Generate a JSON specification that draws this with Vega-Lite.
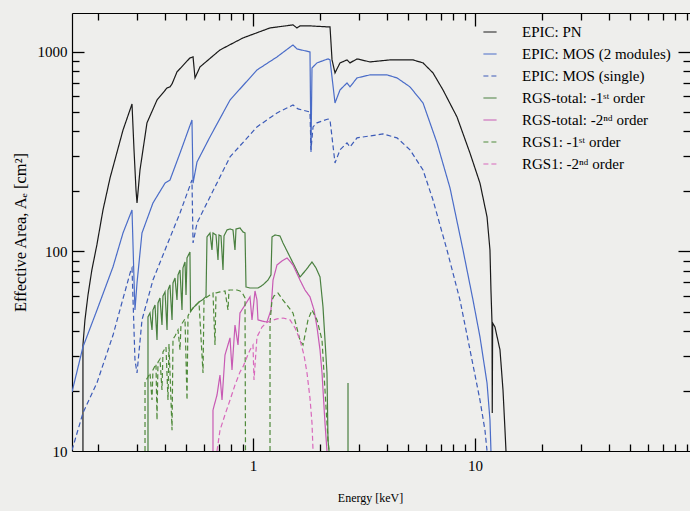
{
 "$schema": "https://vega.github.io/schema/vega-lite/v6.json",
 "width": 618, "height": 438,
 "autosize": {"type": "none"},
 "padding": {"left": 72, "top": 13, "right": 0, "bottom": 60},
 "background": "#eeeeec",
 "config": {
  "view": {"stroke": null},
  "font": "Liberation Serif",
  "axis": {"grid": false, "domainColor": "#000", "domainWidth": 1.2, "tickColor": "#000", "tickWidth": 1.3, "tickOpacity": 1, "labelColor": "#000", "titleColor": "#000", "labelFont": "Liberation Serif", "titleFont": "Liberation Serif", "titleFontWeight": "normal", "labelFontSize": 15, "titleFontSize": 12, "labelOverlap": false, "labelFlush": false}
 },
 "data": {"values": [
  {"s":"EPIC: PN","g":1,"E":0.1714,"A":10},{"s":"EPIC: PN","g":1,"E":0.1714,"A":34.0},{"s":"EPIC: PN","g":1,"E":0.175,"A":45.4},{"s":"EPIC: PN","g":1,"E":0.1806,"A":60.5},{"s":"EPIC: PN","g":1,"E":0.188,"A":80.8},{"s":"EPIC: PN","g":1,"E":0.198,"A":107.8},{"s":"EPIC: PN","g":1,"E":0.211,"A":161.4},{"s":"EPIC: PN","g":1,"E":0.227,"A":233.5},{"s":"EPIC: PN","g":1,"E":0.2597,"A":406},{"s":"EPIC: PN","g":1,"E":0.2851,"A":548},{"s":"EPIC: PN","g":1,"E":0.2911,"A":323},{"s":"EPIC: PN","g":1,"E":0.2972,"A":203},{"s":"EPIC: PN","g":1,"E":0.3003,"A":175},{"s":"EPIC: PN","g":1,"E":0.3097,"A":256},{"s":"EPIC: PN","g":1,"E":0.333,"A":441},{"s":"EPIC: PN","g":1,"E":0.3695,"A":574},{"s":"EPIC: PN","g":1,"E":0.41,"A":660},{"s":"EPIC: PN","g":1,"E":0.4227,"A":668},{"s":"EPIC: PN","g":1,"E":0.4318,"A":691},{"s":"EPIC: PN","g":1,"E":0.4546,"A":794},{"s":"EPIC: PN","g":1,"E":0.52,"A":933},{"s":"EPIC: PN","g":1,"E":0.537,"A":944},{"s":"EPIC: PN","g":1,"E":0.548,"A":741},{"s":"EPIC: PN","g":1,"E":0.577,"A":841},{"s":"EPIC: PN","g":1,"E":0.71,"A":1023},{"s":"EPIC: PN","g":1,"E":0.901,"A":1175},{"s":"EPIC: PN","g":1,"E":1.193,"A":1319},{"s":"EPIC: PN","g":1,"E":1.514,"A":1366},{"s":"EPIC: PN","g":1,"E":1.578,"A":1319},{"s":"EPIC: PN","g":1,"E":1.628,"A":1350},{"s":"EPIC: PN","g":1,"E":1.806,"A":1350},{"s":"EPIC: PN","g":1,"E":2.177,"A":1335},{"s":"EPIC: PN","g":1,"E":2.223,"A":1335},{"s":"EPIC: PN","g":1,"E":2.27,"A":912},{"s":"EPIC: PN","g":1,"E":2.341,"A":785},{"s":"EPIC: PN","g":1,"E":2.466,"A":881},{"s":"EPIC: PN","g":1,"E":2.651,"A":912},{"s":"EPIC: PN","g":1,"E":2.735,"A":881},{"s":"EPIC: PN","g":1,"E":2.941,"A":923},{"s":"EPIC: PN","g":1,"E":3.365,"A":891},{"s":"EPIC: PN","g":1,"E":4.141,"A":912},{"s":"EPIC: PN","g":1,"E":5.256,"A":912},{"s":"EPIC: PN","g":1,"E":5.833,"A":881},{"s":"EPIC: PN","g":1,"E":6.469,"A":785},{"s":"EPIC: PN","g":1,"E":7.175,"A":645},{"s":"EPIC: PN","g":1,"E":8.298,"A":472},{"s":"EPIC: PN","g":1,"E":9.495,"A":311},{"s":"EPIC: PN","g":1,"E":10.53,"A":220},{"s":"EPIC: PN","g":1,"E":11.33,"A":149},{"s":"EPIC: PN","g":1,"E":11.68,"A":101.7},{"s":"EPIC: PN","g":1,"E":11.8,"A":64.1},{"s":"EPIC: PN","g":1,"E":11.93,"A":43.8},{"s":"EPIC: PN","g":1,"E":11.96,"A":15.5},{"s":"EPIC: PN","g":1,"E":12.01,"A":43.8},{"s":"EPIC: PN","g":1,"E":12.3,"A":41.8},{"s":"EPIC: PN","g":1,"E":12.96,"A":32.1},{"s":"EPIC: PN","g":1,"E":13.37,"A":20.2},{"s":"EPIC: PN","g":1,"E":13.65,"A":12.7},{"s":"EPIC: PN","g":1,"E":13.79,"A":10},

  {"s":"EPIC: MOS (2 modules)","g":1,"E":0.153,"A":19.76},{"s":"EPIC: MOS (2 modules)","g":1,"E":0.1714,"A":33.2},{"s":"EPIC: MOS (2 modules)","g":1,"E":0.1983,"A":50.9},{"s":"EPIC: MOS (2 modules)","g":1,"E":0.234,"A":83.6},{"s":"EPIC: MOS (2 modules)","g":1,"E":0.2597,"A":123.8},{"s":"EPIC: MOS (2 modules)","g":1,"E":0.2851,"A":161.4},{"s":"EPIC: MOS (2 modules)","g":1,"E":0.2911,"A":71.9},{"s":"EPIC: MOS (2 modules)","g":1,"E":0.294,"A":50.9},{"s":"EPIC: MOS (2 modules)","g":1,"E":0.3003,"A":69.5},{"s":"EPIC: MOS (2 modules)","g":1,"E":0.3162,"A":123.8},{"s":"EPIC: MOS (2 modules)","g":1,"E":0.3543,"A":175},{"s":"EPIC: MOS (2 modules)","g":1,"E":0.4016,"A":220},{"s":"EPIC: MOS (2 modules)","g":1,"E":0.4227,"A":228},{"s":"EPIC: MOS (2 modules)","g":1,"E":0.469,"A":311},{"s":"EPIC: MOS (2 modules)","g":1,"E":0.531,"A":456},{"s":"EPIC: MOS (2 modules)","g":1,"E":0.537,"A":220},{"s":"EPIC: MOS (2 modules)","g":1,"E":0.5596,"A":281},{"s":"EPIC: MOS (2 modules)","g":1,"E":0.64,"A":375},{"s":"EPIC: MOS (2 modules)","g":1,"E":0.788,"A":574},{"s":"EPIC: MOS (2 modules)","g":1,"E":1.042,"A":812},{"s":"EPIC: MOS (2 modules)","g":1,"E":1.283,"A":944},{"s":"EPIC: MOS (2 modules)","g":1,"E":1.514,"A":1084},{"s":"EPIC: MOS (2 modules)","g":1,"E":1.578,"A":1035},{"s":"EPIC: MOS (2 modules)","g":1,"E":1.806,"A":1000},{"s":"EPIC: MOS (2 modules)","g":1,"E":1.825,"A":315},{"s":"EPIC: MOS (2 modules)","g":1,"E":1.844,"A":831},{"s":"EPIC: MOS (2 modules)","g":1,"E":1.942,"A":881},{"s":"EPIC: MOS (2 modules)","g":1,"E":2.177,"A":923},{"s":"EPIC: MOS (2 modules)","g":1,"E":2.223,"A":912},{"s":"EPIC: MOS (2 modules)","g":1,"E":2.341,"A":555},{"s":"EPIC: MOS (2 modules)","g":1,"E":2.466,"A":645},{"s":"EPIC: MOS (2 modules)","g":1,"E":2.651,"A":699},{"s":"EPIC: MOS (2 modules)","g":1,"E":2.735,"A":668},{"s":"EPIC: MOS (2 modules)","g":1,"E":2.941,"A":741},{"s":"EPIC: MOS (2 modules)","g":1,"E":3.365,"A":767},{"s":"EPIC: MOS (2 modules)","g":1,"E":4.015,"A":767},{"s":"EPIC: MOS (2 modules)","g":1,"E":4.453,"A":741},{"s":"EPIC: MOS (2 modules)","g":1,"E":5.096,"A":668},{"s":"EPIC: MOS (2 modules)","g":1,"E":5.833,"A":555},{"s":"EPIC: MOS (2 modules)","g":1,"E":6.743,"A":350},{"s":"EPIC: MOS (2 modules)","g":1,"E":7.718,"A":208},{"s":"EPIC: MOS (2 modules)","g":1,"E":8.831,"A":101.7},{"s":"EPIC: MOS (2 modules)","g":1,"E":9.795,"A":57.1},{"s":"EPIC: MOS (2 modules)","g":1,"E":10.53,"A":37.3},{"s":"EPIC: MOS (2 modules)","g":1,"E":11.33,"A":21.9},{"s":"EPIC: MOS (2 modules)","g":1,"E":11.68,"A":14.3},{"s":"EPIC: MOS (2 modules)","g":1,"E":11.8,"A":10},

  {"s":"EPIC: MOS (single)","g":1,"E":0.153,"A":10.1},{"s":"EPIC: MOS (single)","g":1,"E":0.1714,"A":15.5},{"s":"EPIC: MOS (single)","g":1,"E":0.1983,"A":22},{"s":"EPIC: MOS (single)","g":1,"E":0.234,"A":38},{"s":"EPIC: MOS (single)","g":1,"E":0.2597,"A":58},{"s":"EPIC: MOS (single)","g":1,"E":0.282,"A":80.8},{"s":"EPIC: MOS (single)","g":1,"E":0.2851,"A":82.7},{"s":"EPIC: MOS (single)","g":1,"E":0.294,"A":28.6},{"s":"EPIC: MOS (single)","g":1,"E":0.3003,"A":24.6},{"s":"EPIC: MOS (single)","g":1,"E":0.3162,"A":45.4},{"s":"EPIC: MOS (single)","g":1,"E":0.3543,"A":71.9},{"s":"EPIC: MOS (single)","g":1,"E":0.41,"A":107.8},{"s":"EPIC: MOS (single)","g":1,"E":0.469,"A":156},{"s":"EPIC: MOS (single)","g":1,"E":0.531,"A":228},{"s":"EPIC: MOS (single)","g":1,"E":0.537,"A":110.3},{"s":"EPIC: MOS (single)","g":1,"E":0.5596,"A":139},{"s":"EPIC: MOS (single)","g":1,"E":0.64,"A":187.6},{"s":"EPIC: MOS (single)","g":1,"E":0.788,"A":297.7},{"s":"EPIC: MOS (single)","g":1,"E":1.042,"A":421},{"s":"EPIC: MOS (single)","g":1,"E":1.283,"A":494.7},{"s":"EPIC: MOS (single)","g":1,"E":1.514,"A":542},{"s":"EPIC: MOS (single)","g":1,"E":1.595,"A":518},{"s":"EPIC: MOS (single)","g":1,"E":1.806,"A":500},{"s":"EPIC: MOS (single)","g":1,"E":1.825,"A":323},{"s":"EPIC: MOS (single)","g":1,"E":1.864,"A":421},{"s":"EPIC: MOS (single)","g":1,"E":1.942,"A":441},{"s":"EPIC: MOS (single)","g":1,"E":2.177,"A":461},{"s":"EPIC: MOS (single)","g":1,"E":2.223,"A":456},{"s":"EPIC: MOS (single)","g":1,"E":2.341,"A":277.7},{"s":"EPIC: MOS (single)","g":1,"E":2.466,"A":323},{"s":"EPIC: MOS (single)","g":1,"E":2.651,"A":350},{"s":"EPIC: MOS (single)","g":1,"E":2.735,"A":334},{"s":"EPIC: MOS (single)","g":1,"E":2.941,"A":371},{"s":"EPIC: MOS (single)","g":1,"E":3.619,"A":384},{"s":"EPIC: MOS (single)","g":1,"E":3.851,"A":388},{"s":"EPIC: MOS (single)","g":1,"E":4.453,"A":371},{"s":"EPIC: MOS (single)","g":1,"E":5.096,"A":323},{"s":"EPIC: MOS (single)","g":1,"E":5.833,"A":256},{"s":"EPIC: MOS (single)","g":1,"E":6.469,"A":181},{"s":"EPIC: MOS (single)","g":1,"E":7.479,"A":101.7},{"s":"EPIC: MOS (single)","g":1,"E":8.558,"A":57.1},{"s":"EPIC: MOS (single)","g":1,"E":9.495,"A":32.1},{"s":"EPIC: MOS (single)","g":1,"E":10.53,"A":18.0},{"s":"EPIC: MOS (single)","g":1,"E":11.09,"A":12.7},{"s":"EPIC: MOS (single)","g":1,"E":11.33,"A":10},

  {"s":"RGS-total: -1ˢᵗ order","g":1,"E":0.3365,"A":10},{"s":"RGS-total: -1ˢᵗ order","g":1,"E":0.3365,"A":47.0},{"s":"RGS-total: -1ˢᵗ order","g":1,"E":0.3436,"A":49.2},{"s":"RGS-total: -1ˢᵗ order","g":1,"E":0.3508,"A":40.4},{"s":"RGS-total: -1ˢᵗ order","g":1,"E":0.3543,"A":50.9},{"s":"RGS-total: -1ˢᵗ order","g":1,"E":0.3619,"A":53.9},{"s":"RGS-total: -1ˢᵗ order","g":1,"E":0.3695,"A":36.0},{"s":"RGS-total: -1ˢᵗ order","g":1,"E":0.3733,"A":55.2},{"s":"RGS-total: -1ˢᵗ order","g":1,"E":0.3811,"A":58.5},{"s":"RGS-total: -1ˢᵗ order","g":1,"E":0.3891,"A":42.8},{"s":"RGS-total: -1ˢᵗ order","g":1,"E":0.3931,"A":59.8},{"s":"RGS-total: -1ˢᵗ order","g":1,"E":0.4016,"A":62.7},{"s":"RGS-total: -1ˢᵗ order","g":1,"E":0.41,"A":40.4},{"s":"RGS-total: -1ˢᵗ order","g":1,"E":0.4141,"A":64.1},{"s":"RGS-total: -1ˢᵗ order","g":1,"E":0.4227,"A":68.0},{"s":"RGS-total: -1ˢᵗ order","g":1,"E":0.4318,"A":45.4},{"s":"RGS-total: -1ˢᵗ order","g":1,"E":0.4362,"A":69.5},{"s":"RGS-total: -1ˢᵗ order","g":1,"E":0.4454,"A":73.6},{"s":"RGS-total: -1ˢᵗ order","g":1,"E":0.4546,"A":57.1},{"s":"RGS-total: -1ˢᵗ order","g":1,"E":0.4594,"A":76.3},{"s":"RGS-total: -1ˢᵗ order","g":1,"E":0.469,"A":80.8},{"s":"RGS-total: -1ˢᵗ order","g":1,"E":0.4788,"A":50.9},{"s":"RGS-total: -1ˢᵗ order","g":1,"E":0.4838,"A":82.7},{"s":"RGS-total: -1ˢᵗ order","g":1,"E":0.494,"A":88.6},{"s":"RGS-total: -1ˢᵗ order","g":1,"E":0.4992,"A":60.5},{"s":"RGS-total: -1ˢᵗ order","g":1,"E":0.5044,"A":92.8},{"s":"RGS-total: -1ˢᵗ order","g":1,"E":0.5149,"A":97.2},{"s":"RGS-total: -1ˢᵗ order","g":1,"E":0.52,"A":99.4},{"s":"RGS-total: -1ˢᵗ order","g":1,"E":0.5231,"A":50},{"s":"RGS-total: -1ˢᵗ order","g":1,"E":0.537,"A":52.1},{"s":"RGS-total: -1ˢᵗ order","g":1,"E":0.5537,"A":53.9},{"s":"RGS-total: -1ˢᵗ order","g":1,"E":0.5711,"A":55.8},{"s":"RGS-total: -1ˢᵗ order","g":1,"E":0.5955,"A":57.5},{"s":"RGS-total: -1ˢᵗ order","g":1,"E":0.6142,"A":59.5},{"s":"RGS-total: -1ˢᵗ order","g":1,"E":0.6206,"A":118.2},{"s":"RGS-total: -1ˢᵗ order","g":1,"E":0.64,"A":123.8},{"s":"RGS-total: -1ˢᵗ order","g":1,"E":0.6535,"A":101.7},{"s":"RGS-total: -1ˢᵗ order","g":1,"E":0.6603,"A":123.8},{"s":"RGS-total: -1ˢᵗ order","g":1,"E":0.6813,"A":121},{"s":"RGS-total: -1ˢᵗ order","g":1,"E":0.6956,"A":90.7},{"s":"RGS-total: -1ˢᵗ order","g":1,"E":0.7029,"A":121},{"s":"RGS-total: -1ˢᵗ order","g":1,"E":0.7176,"A":119.6},{"s":"RGS-total: -1ˢᵗ order","g":1,"E":0.7326,"A":80.8},{"s":"RGS-total: -1ˢᵗ order","g":1,"E":0.7403,"A":119.6},{"s":"RGS-total: -1ˢᵗ order","g":1,"E":0.7636,"A":128.2},{"s":"RGS-total: -1ˢᵗ order","g":1,"E":0.788,"A":129.7},{"s":"RGS-total: -1ˢᵗ order","g":1,"E":0.8126,"A":128.2},{"s":"RGS-total: -1ˢᵗ order","g":1,"E":0.8296,"A":101.7},{"s":"RGS-total: -1ˢᵗ order","g":1,"E":0.8384,"A":129.7},{"s":"RGS-total: -1ˢᵗ order","g":1,"E":0.8738,"A":131.2},{"s":"RGS-total: -1ˢᵗ order","g":1,"E":0.901,"A":125.3},{"s":"RGS-total: -1ˢᵗ order","g":1,"E":0.9204,"A":123.8},{"s":"RGS-total: -1ˢᵗ order","g":1,"E":0.93,"A":66.4},{"s":"RGS-total: -1ˢᵗ order","g":1,"E":0.9694,"A":65.6},{"s":"RGS-total: -1ˢᵗ order","g":1,"E":1.053,"A":65.6},{"s":"RGS-total: -1ˢᵗ order","g":1,"E":1.109,"A":68.0},{"s":"RGS-total: -1ˢᵗ order","g":1,"E":1.168,"A":71.9},{"s":"RGS-total: -1ˢᵗ order","g":1,"E":1.205,"A":76.3},{"s":"RGS-total: -1ˢᵗ order","g":1,"E":1.218,"A":118.2},{"s":"RGS-total: -1ˢᵗ order","g":1,"E":1.256,"A":121},{"s":"RGS-total: -1ˢᵗ order","g":1,"E":1.323,"A":119.6},{"s":"RGS-total: -1ˢᵗ order","g":1,"E":1.365,"A":110.3},{"s":"RGS-total: -1ˢᵗ order","g":1,"E":1.514,"A":87.6},{"s":"RGS-total: -1ˢᵗ order","g":1,"E":1.628,"A":74.5},{"s":"RGS-total: -1ˢᵗ order","g":1,"E":1.733,"A":80.8},{"s":"RGS-total: -1ˢᵗ order","g":1,"E":1.844,"A":88.6},{"s":"RGS-total: -1ˢᵗ order","g":1,"E":1.922,"A":82.7},{"s":"RGS-total: -1ˢᵗ order","g":1,"E":2.004,"A":74.5},{"s":"RGS-total: -1ˢᵗ order","g":1,"E":2.067,"A":52.7},{"s":"RGS-total: -1ˢᵗ order","g":1,"E":2.11,"A":36.0},{"s":"RGS-total: -1ˢᵗ order","g":1,"E":2.154,"A":24.6},{"s":"RGS-total: -1ˢᵗ order","g":1,"E":2.177,"A":11.35},{"s":"RGS-total: -1ˢᵗ order","g":1,"E":2.2,"A":10},
  {"s":"RGS-total: -1ˢᵗ order","g":2,"E":2.679,"A":10},{"s":"RGS-total: -1ˢᵗ order","g":2,"E":2.679,"A":21.9},

  {"s":"RGS-total: -2ⁿᵈ order","g":1,"E":0.6603,"A":10},{"s":"RGS-total: -2ⁿᵈ order","g":1,"E":0.6603,"A":16.05},{"s":"RGS-total: -2ⁿᵈ order","g":1,"E":0.6885,"A":19.09},{"s":"RGS-total: -2ⁿᵈ order","g":1,"E":0.71,"A":24.0},{"s":"RGS-total: -2ⁿᵈ order","g":1,"E":0.7252,"A":18.0},{"s":"RGS-total: -2ⁿᵈ order","g":1,"E":0.748,"A":30.3},{"s":"RGS-total: -2ⁿᵈ order","g":1,"E":0.788,"A":36.9},{"s":"RGS-total: -2ⁿᵈ order","g":1,"E":0.8043,"A":25.5},{"s":"RGS-total: -2ⁿᵈ order","g":1,"E":0.8296,"A":42.8},{"s":"RGS-total: -2ⁿᵈ order","g":1,"E":0.856,"A":34.0},{"s":"RGS-total: -2ⁿᵈ order","g":1,"E":0.8738,"A":49.2},{"s":"RGS-total: -2ⁿᵈ order","g":1,"E":0.9204,"A":53.9},{"s":"RGS-total: -2ⁿᵈ order","g":1,"E":0.9694,"A":59.2},{"s":"RGS-total: -2ⁿᵈ order","g":1,"E":0.9897,"A":45.4},{"s":"RGS-total: -2ⁿᵈ order","g":1,"E":1.021,"A":63.4},{"s":"RGS-total: -2ⁿᵈ order","g":1,"E":1.042,"A":57.1},{"s":"RGS-total: -2ⁿᵈ order","g":1,"E":1.053,"A":45.4},{"s":"RGS-total: -2ⁿᵈ order","g":1,"E":1.098,"A":44.8},{"s":"RGS-total: -2ⁿᵈ order","g":1,"E":1.156,"A":44.3},{"s":"RGS-total: -2ⁿᵈ order","g":1,"E":1.205,"A":50.9},{"s":"RGS-total: -2ⁿᵈ order","g":1,"E":1.231,"A":71.9},{"s":"RGS-total: -2ⁿᵈ order","g":1,"E":1.283,"A":85.6},{"s":"RGS-total: -2ⁿᵈ order","g":1,"E":1.351,"A":89.6},{"s":"RGS-total: -2ⁿᵈ order","g":1,"E":1.423,"A":92.8},{"s":"RGS-total: -2ⁿᵈ order","g":1,"E":1.514,"A":85.6},{"s":"RGS-total: -2ⁿᵈ order","g":1,"E":1.628,"A":71.9},{"s":"RGS-total: -2ⁿᵈ order","g":1,"E":1.715,"A":64.1},{"s":"RGS-total: -2ⁿᵈ order","g":1,"E":1.806,"A":59.2},{"s":"RGS-total: -2ⁿᵈ order","g":1,"E":1.883,"A":50.9},{"s":"RGS-total: -2ⁿᵈ order","g":1,"E":1.942,"A":41.8},{"s":"RGS-total: -2ⁿᵈ order","g":1,"E":2.004,"A":32.1},{"s":"RGS-total: -2ⁿᵈ order","g":1,"E":2.046,"A":24.6},{"s":"RGS-total: -2ⁿᵈ order","g":1,"E":2.11,"A":13.8},{"s":"RGS-total: -2ⁿᵈ order","g":1,"E":2.154,"A":10},

  {"s":"RGS1: -1ˢᵗ order","g":1,"E":0.3263,"A":10},{"s":"RGS1: -1ˢᵗ order","g":1,"E":0.3263,"A":22.2},{"s":"RGS1: -1ˢᵗ order","g":1,"E":0.3365,"A":23.5},{"s":"RGS1: -1ˢᵗ order","g":1,"E":0.3436,"A":24.6},{"s":"RGS1: -1ˢᵗ order","g":1,"E":0.3508,"A":18.0},{"s":"RGS1: -1ˢᵗ order","g":1,"E":0.3543,"A":25.5},{"s":"RGS1: -1ˢᵗ order","g":1,"E":0.3656,"A":27.3},{"s":"RGS1: -1ˢᵗ order","g":1,"E":0.3695,"A":14.3},{"s":"RGS1: -1ˢᵗ order","g":1,"E":0.3733,"A":27.9},{"s":"RGS1: -1ˢᵗ order","g":1,"E":0.3811,"A":28.9},{"s":"RGS1: -1ˢᵗ order","g":1,"E":0.3891,"A":20.2},{"s":"RGS1: -1ˢᵗ order","g":1,"E":0.3931,"A":31.4},{"s":"RGS1: -1ˢᵗ order","g":1,"E":0.4055,"A":33.2},{"s":"RGS1: -1ˢᵗ order","g":1,"E":0.4141,"A":18.0},{"s":"RGS1: -1ˢᵗ order","g":1,"E":0.4184,"A":34.4},{"s":"RGS1: -1ˢᵗ order","g":1,"E":0.4318,"A":12.7},{"s":"RGS1: -1ˢᵗ order","g":1,"E":0.4362,"A":36.4},{"s":"RGS1: -1ˢᵗ order","g":1,"E":0.4454,"A":37.7},{"s":"RGS1: -1ˢᵗ order","g":1,"E":0.4594,"A":40.4},{"s":"RGS1: -1ˢᵗ order","g":1,"E":0.469,"A":32.1},{"s":"RGS1: -1ˢᵗ order","g":1,"E":0.4738,"A":42.8},{"s":"RGS1: -1ˢᵗ order","g":1,"E":0.4838,"A":44.3},{"s":"RGS1: -1ˢᵗ order","g":1,"E":0.494,"A":45.9},{"s":"RGS1: -1ˢᵗ order","g":1,"E":0.5044,"A":18.0},{"s":"RGS1: -1ˢᵗ order","g":1,"E":0.5096,"A":47.5},{"s":"RGS1: -1ˢᵗ order","g":1,"E":0.52,"A":49.7},{"s":"RGS1: -1ˢᵗ order","g":1,"E":0.537,"A":52.1},{"s":"RGS1: -1ˢᵗ order","g":1,"E":0.5537,"A":53.9},{"s":"RGS1: -1ˢᵗ order","g":1,"E":0.5711,"A":55.8},{"s":"RGS1: -1ˢᵗ order","g":1,"E":0.5955,"A":24.6},{"s":"RGS1: -1ˢᵗ order","g":1,"E":0.6017,"A":57.8},{"s":"RGS1: -1ˢᵗ order","g":1,"E":0.64,"A":60.5},{"s":"RGS1: -1ˢᵗ order","g":1,"E":0.6603,"A":61.9},{"s":"RGS1: -1ˢᵗ order","g":1,"E":0.6743,"A":34.0},{"s":"RGS1: -1ˢᵗ order","g":1,"E":0.6813,"A":61.9},{"s":"RGS1: -1ˢᵗ order","g":1,"E":0.71,"A":62.7},{"s":"RGS1: -1ˢᵗ order","g":1,"E":0.748,"A":63.4},{"s":"RGS1: -1ˢᵗ order","g":1,"E":0.7716,"A":50.9},{"s":"RGS1: -1ˢᵗ order","g":1,"E":0.7795,"A":64.1},{"s":"RGS1: -1ˢᵗ order","g":1,"E":0.8126,"A":64.1},{"s":"RGS1: -1ˢᵗ order","g":1,"E":0.847,"A":64.1},{"s":"RGS1: -1ˢᵗ order","g":1,"E":0.8738,"A":63.4},{"s":"RGS1: -1ˢᵗ order","g":1,"E":0.901,"A":61.2},{"s":"RGS1: -1ˢᵗ order","g":1,"E":0.9204,"A":58.5},{"s":"RGS1: -1ˢᵗ order","g":1,"E":0.925,"A":10},
  {"s":"RGS1: -1ˢᵗ order","g":2,"E":1.193,"A":10},{"s":"RGS1: -1ˢᵗ order","g":2,"E":1.193,"A":43.8},{"s":"RGS1: -1ˢᵗ order","g":2,"E":1.218,"A":57.1},{"s":"RGS1: -1ˢᵗ order","g":2,"E":1.243,"A":59.8},{"s":"RGS1: -1ˢᵗ order","g":2,"E":1.296,"A":61.9},{"s":"RGS1: -1ˢᵗ order","g":2,"E":1.365,"A":57.1},{"s":"RGS1: -1ˢᵗ order","g":2,"E":1.514,"A":49.2},{"s":"RGS1: -1ˢᵗ order","g":2,"E":1.628,"A":36.0},{"s":"RGS1: -1ˢᵗ order","g":2,"E":1.68,"A":34.0},{"s":"RGS1: -1ˢᵗ order","g":2,"E":1.769,"A":45.4},{"s":"RGS1: -1ˢᵗ order","g":2,"E":1.844,"A":50.9},{"s":"RGS1: -1ˢᵗ order","g":2,"E":1.942,"A":45.4},{"s":"RGS1: -1ˢᵗ order","g":2,"E":2.046,"A":36.0},{"s":"RGS1: -1ˢᵗ order","g":2,"E":2.11,"A":20.2},{"s":"RGS1: -1ˢᵗ order","g":2,"E":2.177,"A":11.35},{"s":"RGS1: -1ˢᵗ order","g":2,"E":2.2,"A":10},

  {"s":"RGS1: -2ⁿᵈ order","g":1,"E":0.6885,"A":10},{"s":"RGS1: -2ⁿᵈ order","g":1,"E":0.71,"A":12.7},{"s":"RGS1: -2ⁿᵈ order","g":1,"E":0.748,"A":15.2},{"s":"RGS1: -2ⁿᵈ order","g":1,"E":0.788,"A":18.0},{"s":"RGS1: -2ⁿᵈ order","g":1,"E":0.8296,"A":21.4},{"s":"RGS1: -2ⁿᵈ order","g":1,"E":0.8738,"A":24.9},{"s":"RGS1: -2ⁿᵈ order","g":1,"E":0.901,"A":26.4},{"s":"RGS1: -2ⁿᵈ order","g":1,"E":0.9396,"A":29.6},{"s":"RGS1: -2ⁿᵈ order","g":1,"E":0.9694,"A":32.1},{"s":"RGS1: -2ⁿᵈ order","g":1,"E":1.0,"A":34.0},{"s":"RGS1: -2ⁿᵈ order","g":1,"E":1.0104,"A":22.7},{"s":"RGS1: -2ⁿᵈ order","g":1,"E":1.042,"A":37.3},{"s":"RGS1: -2ⁿᵈ order","g":1,"E":1.098,"A":41.8},{"s":"RGS1: -2ⁿᵈ order","g":1,"E":1.144,"A":43.8},{"s":"RGS1: -2ⁿᵈ order","g":1,"E":1.193,"A":44.8},{"s":"RGS1: -2ⁿᵈ order","g":1,"E":1.283,"A":45.9},{"s":"RGS1: -2ⁿᵈ order","g":1,"E":1.365,"A":46.4},{"s":"RGS1: -2ⁿᵈ order","g":1,"E":1.468,"A":45.4},{"s":"RGS1: -2ⁿᵈ order","g":1,"E":1.546,"A":41.4},{"s":"RGS1: -2ⁿᵈ order","g":1,"E":1.628,"A":36.0},{"s":"RGS1: -2ⁿᵈ order","g":1,"E":1.697,"A":30.3},{"s":"RGS1: -2ⁿᵈ order","g":1,"E":1.751,"A":24.6},{"s":"RGS1: -2ⁿᵈ order","g":1,"E":1.806,"A":18.4},{"s":"RGS1: -2ⁿᵈ order","g":1,"E":1.844,"A":13.8},{"s":"RGS1: -2ⁿᵈ order","g":1,"E":1.864,"A":10}
 ]},
 "layer": [
  {
   "mark": {"type": "line", "strokeWidth": 1.2, "clip": true},
   "encoding": {
    "x": {"field": "E", "type": "quantitative", "scale": {"type": "log", "domain": [0.153, 93], "nice": false},
      "axis": {"orient": "bottom", "values": [1, 10], "ticks": false,
        "labelExpr": "datum.value == 1 ? '1' : datum.value == 10 ? '10' : ''",
        "labelPadding": 7, "title": "Energy [keV]", "titleX": 298, "titleY": 46, "titleBaseline": "middle"}},
    "y": {"field": "A", "type": "quantitative", "scale": {"type": "log", "domain": [10, 1567], "nice": false},
      "axis": {"orient": "left", "values": [10, 100, 1000], "ticks": false,
        "labelExpr": "datum.value == 10 ? '10' : datum.value == 100 ? '100' : datum.value == 1000 ? '1000' : ''",
        "labelPadding": 5, "title": "Effective Area, Aₑ [cm²]", "titleFontSize": 16.5, "titleX": -52, "titleY": 219, "titleBaseline": "middle", "titleAngle": -90}},
    "color": {"field": "s", "type": "nominal",
      "scale": {"domain": ["EPIC: PN","EPIC: MOS (2 modules)","EPIC: MOS (single)","RGS-total: -1ˢᵗ order","RGS-total: -2ⁿᵈ order","RGS1: -1ˢᵗ order","RGS1: -2ⁿᵈ order"],
        "range": ["#1a1a1a","#4a6cc8","#3c5bb8","#4a8040","#c85ab4","#4f8a3a","#d868bc"]},
      "legend": {"title": null, "orient": "none", "legendX": 406, "legendY": 7, "symbolType": "M-0.6,0H0.6", "symbolSize": 484, "symbolStrokeWidth": 1.2, "labelFont": "Liberation Serif", "labelFontSize": 15, "labelColor": "#000", "labelOffset": 20, "rowPadding": 2, "padding": 0, "labelLimit": 300}},
    "strokeDash": {"field": "s", "type": "nominal",
      "scale": {"domain": ["EPIC: PN","EPIC: MOS (2 modules)","EPIC: MOS (single)","RGS-total: -1ˢᵗ order","RGS-total: -2ⁿᵈ order","RGS1: -1ˢᵗ order","RGS1: -2ⁿᵈ order"],
        "range": [[1,0],[1,0],[5,3],[1,0],[1,0],[5,3],[5,3]]},
      "legend": {"title": null, "orient": "none", "legendX": 406, "legendY": 7, "symbolType": "M-0.6,0H0.6", "symbolSize": 484, "symbolStrokeWidth": 1.2, "labelFont": "Liberation Serif", "labelFontSize": 15, "labelColor": "#000", "labelOffset": 20, "rowPadding": 2, "padding": 0, "labelLimit": 300}},
    "detail": {"field": "g", "type": "nominal"}
   }
  },
  {
   "data": {"values": [{"E": 1, "A": 100}]},
   "mark": {"type": "point", "opacity": 0},
   "encoding": {
    "x": {"field": "E", "type": "quantitative", "scale": {"type": "log", "domain": [0.153, 93], "nice": false},
      "axis": {"orient": "top", "offset": -438, "values": [0.2,0.3,0.4,0.5,0.6,0.7,0.8,0.9,2,3,4,5,6,7,8,9,20,30,40,50,60,70,80,90],
        "labels": false, "title": null, "domain": false, "ticks": true, "tickSize": 7}},
    "y": {"field": "A", "type": "quantitative", "scale": {"type": "log", "domain": [10, 1567], "nice": false},
      "axis": {"orient": "right", "offset": -618, "values": [20,30,40,50,60,70,80,90,200,300,400,500,600,700,800,900],
        "labels": false, "title": null, "domain": false, "ticks": true, "tickSize": 7}}
   }
  },
  {
   "data": {"values": [{"E": 1, "A": 100}]},
   "mark": {"type": "point", "opacity": 0},
   "encoding": {
    "x": {"field": "E", "type": "quantitative", "scale": {"type": "log", "domain": [0.153, 93], "nice": false},
      "axis": {"orient": "top", "offset": -438, "values": [1, 10],
        "labels": false, "title": null, "domain": false, "ticks": true, "tickSize": 13}},
    "y": {"field": "A", "type": "quantitative", "scale": {"type": "log", "domain": [10, 1567], "nice": false},
      "axis": {"orient": "right", "offset": -618, "values": [100, 1000],
        "labels": false, "title": null, "domain": false, "ticks": true, "tickSize": 12}}
   }
  },
  {
   "data": {"values": [{"E": 1, "A": 100}]},
   "mark": {"type": "point", "opacity": 0},
   "encoding": {
    "x": {"field": "E", "type": "quantitative", "scale": {"type": "log", "domain": [0.153, 93], "nice": false},
      "axis": {"orient": "bottom", "offset": -438, "values": [0.2,0.3,0.4,0.5,0.6,0.7,0.8,0.9,2,3,4,5,6,7,8,9,20,30,40,50,60,70,80,90],
        "labels": false, "title": null, "domain": true, "ticks": true, "tickSize": 7}},
    "y": {"field": "A", "type": "quantitative", "scale": {"type": "log", "domain": [10, 1567], "nice": false},
      "axis": {"orient": "left", "offset": -618, "values": [20,30,40,50,60,70,80,90,200,300,400,500,600,700,800,900],
        "labels": false, "title": null, "domain": false, "ticks": true, "tickSize": 7}}
   }
  },
  {
   "data": {"values": [{"E": 1, "A": 100}]},
   "mark": {"type": "point", "opacity": 0},
   "encoding": {
    "x": {"field": "E", "type": "quantitative", "scale": {"type": "log", "domain": [0.153, 93], "nice": false},
      "axis": {"orient": "bottom", "offset": -438, "values": [1, 10],
        "labels": false, "title": null, "domain": false, "ticks": true, "tickSize": 13}},
    "y": {"field": "A", "type": "quantitative", "scale": {"type": "log", "domain": [10, 1567], "nice": false},
      "axis": {"orient": "left", "offset": -618, "values": [100, 1000],
        "labels": false, "title": null, "domain": false, "ticks": true, "tickSize": 12}}
   }
  }
 ],
 "resolve": {"axis": {"x": "independent", "y": "independent"}}
}
